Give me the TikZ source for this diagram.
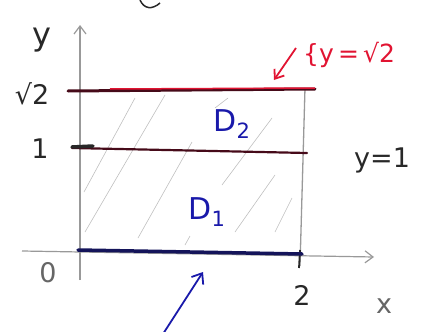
\documentclass[tikz,border=0pt]{standalone}
\usepackage{fontspec}
\setmainfont{DejaVu Sans}
\usetikzlibrary{arrows.meta}
\definecolor{pen}{RGB}{40,40,40}
\definecolor{redpen}{RGB}{225,20,50}
\definecolor{bluepen}{RGB}{25,25,170}
\definecolor{navy}{RGB}{20,20,90}
\definecolor{maroon}{RGB}{70,10,25}
\begin{document}
\begin{tikzpicture}[x=1pt,y=-1pt,
  lbl/.style={font=\fontsize{27}{31}\selectfont, inner sep=0pt},
  axis/.style={draw=gray!80, line width=1.2pt, -{Straight Barb[length=8pt,width=12pt]}},
  hatch/.style={draw=gray!50, line width=0.6pt},
  bound/.style={line width=3pt, line cap=round}]
\useasboundingbox (0,0) rectangle (424,332);
% top fragment
\draw[pen, line width=1.5pt] (140,0) .. controls (144,9) and (152,10) .. (160,3);
% hatching
\draw[hatch] (84,192) -- (135,98);
\draw[hatch] (85,232) -- (165,95);
\draw[hatch] (138,238) -- (192,142);
\draw[hatch] (185,245) -- (190,236);
\draw[hatch] (215,108) -- (228,98);
\draw[hatch] (222,185) -- (272,118);
\draw[hatch] (235,232) -- (275,175);
\draw[hatch] (275,232) -- (292,198);
% axes
\coordinate (xs) at (22,251);
\coordinate (xe) at (374,257);
\coordinate (ys) at (80,280);
\coordinate (ye) at (80,25);
\draw[axis] (xs) -- (xe);
\draw[axis] (ys) -- (ye);
% right edge
\coordinate (rt) at (305,88);
\coordinate (rb) at (300,266);
\draw[gray!80, line width=1.3pt] (rt) -- (rb);
\draw[pen, line width=1.8pt] (300,250) -- (299,268);
% boundary lines
\coordinate (tl) at (68,91);
\coordinate (tr) at (315,89);
\draw[bound, maroon] (tl) -- (tr);
\draw[redpen, line width=1.5pt] (110,89) -- (315,88);
\coordinate (ml) at (72,148);
\coordinate (mr) at (307,153);
\draw[bound, maroon, line width=2.2pt] (ml) -- (mr);
\draw[pen, line width=3.5pt, line cap=round] (72,147) -- (93,146);
\coordinate (bl) at (78,250);
\coordinate (br) at (302,254);
\draw[bound, navy, line width=3.5pt] (bl) -- (br);
% labels
\node[lbl, text=pen, font=\fontsize{32}{36}\selectfont] (ylab) at (42,40) {y};
\node[lbl, text=pen] (s2) at (32,94) {√2};
\node[lbl, text=pen] (one) at (40,149) {1};
\node[lbl, text=gray!80!black] (zero) at (48,273) {0};
\node[lbl, text=pen] (two) at (302,295) {2};
\node[lbl, text=gray!80!black] (xlab) at (384,306) {x};
\node[lbl, text=bluepen, font=\fontsize{30}{34}\selectfont] (d2) at (232,124) {D\textsubscript{2}};
\node[lbl, text=bluepen, font=\fontsize{30}{34}\selectfont] (d1) at (207,212) {D\textsubscript{1}};
\node[lbl, text=pen, anchor=west] (y1) at (354,160) {y=1};
\node[lbl, text=redpen, anchor=west, font=\fontsize{25}{29}\selectfont] (ys2) at (303,55) {\{y\,=\,√2};
% arrows
\coordinate (ra) at (296,48);
\coordinate (rah) at (274,80);
\draw[redpen, line width=1.8pt, -{Straight Barb[length=8pt,width=12pt]}] (ra) -- (rah);
\coordinate (ba) at (163,334);
\coordinate (bah) at (203,272);
\draw[bluepen, line width=1.8pt, -{Straight Barb[length=9pt,width=14pt]}] (ba) -- (bah);
\end{tikzpicture}
\end{document}
